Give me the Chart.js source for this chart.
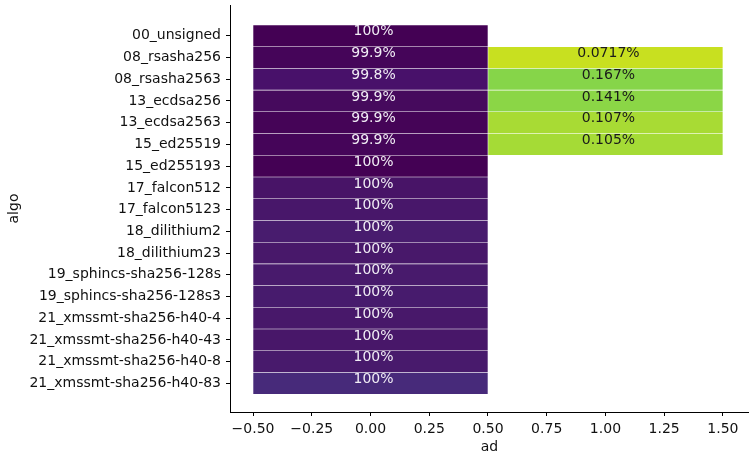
<!DOCTYPE html>
<html lang="en">

<head>
  <title>algo vs ad heatmap</title>
  <script src="https://cdn.jsdelivr.net/npm/chart.js"></script>
  <style>
    body { margin: 0; background: #fff; }
    #wrap { width: 749px; height: 454px; }
  </style>
</head>

<body>
  <div id="wrap">
    <canvas id="myChart" width="749" height="454"></canvas>
  </div>
  <script>
    // rows of the heatmap (top to bottom)
    const algos = [
      '00_unsigned', '08_rsasha256', '08_rsasha2563', '13_ecdsa256', '13_ecdsa2563',
      '15_ed25519', '15_ed255193', '17_falcon512', '17_falcon5123', '18_dilithium2',
      '18_dilithium23', '19_sphincs-sha256-128s', '19_sphincs-sha256-128s3',
      '21_xmssmt-sha256-h40-4', '21_xmssmt-sha256-h40-43', '21_xmssmt-sha256-h40-8',
      '21_xmssmt-sha256-h40-83'
    ];
    // columns ("ad" = 0 and 1), values in percent
    const ad0 = [100, 99.9, 99.8, 99.9, 99.9, 99.9, 100, 100, 100, 100, 100, 100, 100, 100, 100, 100, 100];
    const ad1 = [null, 0.0717, 0.167, 0.141, 0.107, 0.105, null, null, null, null, null, null, null, null, null, null, null];
    const xTicks = [-0.5, -0.25, 0, 0.25, 0.5, 0.75, 1, 1.25, 1.5];

    // cell colours (viridis)
    const ad0Colors = ['#440154', '#450559', '#48116a', '#460a5d', '#450457', '#450559', '#440154',
      '#481467', '#48176a', '#481c6e', '#48186a', '#481a6c', '#471b6d', '#48186a', '#481769',
      '#481a6c', '#472a7a'];
    const ad1Colors = [null, '#c8e020', '#86d549', '#8bd646', '#a8db34', '#a5db36'];

    const FONT = 'DejaVu Sans';
    const FS = 14;

    function cells(values, col) {
      const out = [];
      values.forEach(function (v, i) {
        if (v !== null) out.push({ x: [col - 0.5, col + 0.5], y: i, v: v });
      });
      return out;
    }

    const cellText = {
      id: 'cellText',
      afterDatasetsDraw(chart) {
        const ctx = chart.ctx;
        const xs = chart.scales.x, ys = chart.scales.y;
        ctx.save();
        ctx.font = FS + 'px "' + FONT + '"';
        ctx.textAlign = 'center';
        ctx.textBaseline = 'middle';
        [ad0, ad1].forEach(function (vals, col) {
          vals.forEach(function (v, i) {
            if (v === null) return;
            ctx.fillStyle = col === 0 ? '#f1edf5' : '#1a1a1a';
            const txt = Number(v.toPrecision(3)).toString() + '%';
            ctx.fillText(txt, xs.getPixelForValue(col) + 3, ys.getPixelForValue(i) - 4);
          });
        });
        ctx.restore();
      }
    };

    function noPad(s) {
      s.paddingTop = 0; s.paddingBottom = 0; s.paddingLeft = 0; s.paddingRight = 0;
    }

    const ctx = document.getElementById('myChart');

    new Chart(ctx, {
      type: 'bar',
      data: {
        datasets: [{
          data: cells(ad0, 0),
          backgroundColor: ad0Colors,
          borderColor: 'rgba(255,255,255,0.09)',
          borderWidth: 0.6,
          borderSkipped: false
        }, {
          data: cells(ad1, 1),
          backgroundColor: ad1Colors.filter(function (c) { return c; }),
          borderColor: 'rgba(255,255,255,0.14)',
          borderWidth: 0.6,
          borderSkipped: false
        }]
      },
      plugins: [cellText],
      options: {
        indexAxis: 'y',
        responsive: false,
        animation: false,
        barPercentage: 1,
        categoryPercentage: 1,
        grouped: false,
        layout: { padding: { top: 5, right: 0, left: 0, bottom: 0 } },
        plugins: {
          legend: { display: false },
          tooltip: { enabled: false }
        },
        scales: {
          x: {
            type: 'linear',
            min: -0.598,
            max: 1.611,
            afterBuildTicks: function (s) { s.ticks = xTicks.map(function (v) { return { value: v }; }); },
            afterFit: function (s) { s.height = 42; noPad(s); },
            ticks: {
              color: '#111',
              padding: 5,
              maxRotation: 0,
              autoSkip: false,
              font: { family: FONT, size: FS },
              callback: function (v) { return v < 0 ? '\u2212' + Math.abs(v).toFixed(2) : v.toFixed(2); }
            },
            grid: { drawOnChartArea: false, drawTicks: true, tickLength: 4, color: '#000' },
            border: { display: true, color: '#000', width: 1 },
            title: {
              display: true, text: 'ad', color: '#111',
              font: { family: FONT, size: FS, lineHeight: 1 },
              padding: { top: 0, bottom: 0 }
            }
          },
          y: {
            type: 'linear',
            reverse: true,
            offset: false,
            min: -1.42,
            max: 17.32,
            afterBuildTicks: function (s) { s.ticks = algos.map(function (a, i) { return { value: i }; }); },
            afterFit: function (s) { s.width = 230; noPad(s); },
            ticks: {
              color: '#111',
              padding: 5,
              autoSkip: false,
              font: { family: FONT, size: FS },
              callback: function (v) { return algos[v]; }
            },
            grid: { offset: false, drawOnChartArea: false, drawTicks: true, tickLength: 4, color: '#000' },
            border: { display: true, color: '#000', width: 1 },
            title: {
              display: true, text: 'algo', color: '#111',
              font: { family: FONT, size: FS, lineHeight: 1 },
              padding: { top: 7, bottom: 0 }
            }
          }
        }
      }
    });
  </script>
</body>

</html>
